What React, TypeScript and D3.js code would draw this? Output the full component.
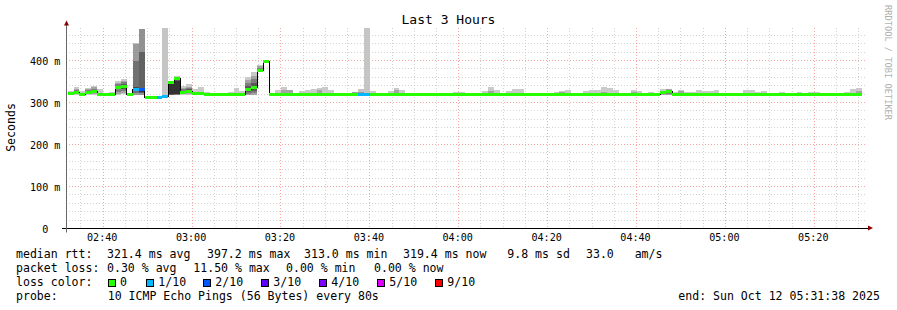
import React from 'react';
import * as d3 from 'd3';

// ---------- data ----------
const TIME_START = new Date(2025, 9, 12, 2, 31, 38);
const TIME_END = new Date(2025, 9, 12, 5, 31, 38);
const FIRST_STEP = new Date(2025, 9, 12, 2, 32, 0);
const STEP_SECONDS = 80;

// median rtt per 80 s step (ms)
const MEDIAN_MS = [
  322, 325, 319, 325, 327, 319, 319, 319, 335, 339,
  319, 331, 331, 313, 313, 313, 315, 348, 356, 325,
  327, 322, 321, 319, 319, 319, 319, 319, 319, 319,
  332, 335, 376, 398, 319, 319, 319, 319, 319, 319,
  319, 319, 319, 319, 319, 319, 319, 319, 319, 320,
  318, 319, 319, 319, 319, 319, 319, 319, 319, 319,
  319, 319, 319, 319, 319, 319, 319, 319, 319, 319,
  319, 319, 319, 319, 319, 319, 319, 319, 319, 319,
  319, 319, 319, 319, 319, 319, 319, 319, 319, 319,
  319, 319, 319, 319, 319, 319, 319, 319, 319, 319,
  324, 327, 319, 319, 319, 319, 319, 319, 319, 319,
  319, 319, 319, 319, 319, 319, 319, 319, 319, 319,
  319, 319, 319, 319, 319, 319, 319, 319, 319, 319,
  319, 319, 319, 319,
];

// lost pings (out of 10) per step
const LOSS_COUNT = [
  0, 0, 0, 0, 0, 0, 0, 0, 0, 0,
  0, 1, 2, 0, 0, 1, 1, 0, 0, 0,
  0, 0, 0, 0, 0, 0, 0, 0, 0, 0,
  0, 0, 0, 0, 0, 0, 0, 0, 0, 0,
  0, 0, 0, 0, 0, 0, 0, 0, 0, 1,
  1, 0, 0, 0, 0, 0, 0, 0, 0, 0,
  0, 0, 0, 0, 0, 0, 0, 0, 0, 0,
  0, 0, 0, 0, 0, 0, 0, 0, 0, 0,
  0, 0, 0, 0, 0, 0, 0, 0, 0, 0,
  0, 0, 0, 0, 0, 0, 0, 0, 0, 0,
  0, 0, 0, 0, 0, 0, 0, 0, 0, 0,
  0, 0, 0, 0, 0, 0, 0, 0, 0, 0,
  0, 0, 0, 0, 0, 0, 0, 0, 0, 0,
  0, 0, 0, 0,
];

// slowest ping per step (ms)
const PING_MAX = [
  328, 336, 328, 335, 340, 332, 319, 325, 351, 357,
  319, 441, 476, 315, 315, 315, 480, 351, 363, 339,
  344, 333, 338, 326, 319, 319, 319, 325, 335, 327,
  360, 372, 390, 402, 319, 330, 337, 330, 319, 327,
  330, 332, 335, 337, 330, 319, 319, 319, 325, 332,
  480, 327, 319, 319, 327, 335, 330, 319, 319, 319,
  319, 319, 319, 319, 319, 325, 325, 319, 319, 319,
  327, 337, 330, 319, 327, 332, 332, 319, 319, 319,
  319, 319, 325, 327, 330, 319, 319, 327, 330, 330,
  337, 335, 330, 319, 319, 330, 327, 319, 325, 319,
  331, 333, 325, 330, 325, 325, 330, 327, 327, 330,
  319, 319, 319, 319, 330, 330, 325, 327, 319, 319,
  325, 319, 319, 325, 319, 325, 325, 319, 319, 319,
  319, 325, 332, 335,
];

// second slowest ping where it shows above the median: [step, ms]
const PING_NEXT: [number, number][] = [
  [36, 330], [37, 330], [42, 330], [48, 325], [55, 330], [71, 328],
  [83, 325], [90, 325], [95, 325], [103, 327], [133, 327],
];

// steps with a wider spread: all received pings, sorted (ms)
const FULL_PINGS: Record<number, number[]> = {
  0: [318, 319, 320, 321, 322, 322, 323, 324, 326, 328],
  1: [319, 320, 322, 323, 324, 326, 327, 329, 332, 336],
  3: [319, 320, 321, 323, 324, 325, 327, 329, 331, 335],
  4: [319, 320, 322, 324, 326, 328, 330, 332, 336, 340],
  8: [319, 321, 326, 331, 334, 336, 339, 343, 347, 351],
  9: [320, 323, 328, 333, 337, 341, 344, 348, 352, 357],
  11: [318, 319, 322, 327, 331, 336, 398, 440, 441],
  12: [318, 319, 322, 326, 333, 420, 474, 476],
  16: [313, 314, 314, 315, 315, 316, 317, 318, 480],
  17: [318, 319, 319, 319, 320, 347, 348, 349, 350, 351],
  18: [318, 319, 319, 320, 321, 352, 355, 357, 360, 363],
  19: [319, 320, 321, 322, 324, 326, 328, 331, 335, 339],
  20: [319, 320, 322, 324, 326, 328, 331, 334, 338, 344],
  30: [318, 319, 321, 325, 330, 334, 340, 346, 354, 360],
  31: [318, 319, 322, 327, 332, 338, 346, 355, 364, 372],
  32: [373, 374, 375, 375, 376, 377, 379, 382, 386, 390],
  33: [395, 396, 397, 397, 398, 398, 399, 400, 401, 402],
  49: [318, 319, 319, 320, 320, 321, 322, 325, 332],
  50: [316, 317, 317, 318, 318, 319, 319, 320, 480],
  100: [318, 319, 320, 321, 322, 324, 325, 326, 328, 331],
  101: [318, 319, 320, 322, 324, 327, 328, 329, 331, 333],
};

const LOSS_LEGEND = ['0', '1/10', '2/10', '3/10', '4/10', '5/10', '9/10'];
const LOSS_LEVELS = [0, 1, 2, 3, 4, 5, 9];
const LOSS_COLORS = ['#26ff00', '#00b8ff', '#0059ff', '#5e00ff', '#7e00ff', '#dd00ff', '#ff0000'];
const Y_TICKS = [0, 100, 200, 300, 400];

const LEGEND_RTT: [string, number][] = [
  ['median rtt:', 16], ['321.4 ms avg', 107], ['397.2 ms max', 207], ['313.0 ms min', 304],
  ['319.4 ms now', 403], ['9.8 ms sd', 507.3], ['33.0   am/s', 586],
];
const LEGEND_LOSS: [string, number][] = [
  ['packet loss:', 16], ['0.30 % avg', 107], ['11.50 % max', 193.3], ['0.00 % min', 286], ['0.00 % now', 374],
];
const LEGEND_BOX_X = [107.7, 146, 203, 261, 319, 377, 435];

// ---------- chart ----------
const MONO = 'DejaVu Sans Mono';
const X0 = 66, X1 = 866, YTOP = 28.5, YBOT = 228.5;
const nb = (s: string) => s.replace(/ /g, '\u00a0');

function lossColor(n: number) {
  let idx = 0;
  LOSS_LEVELS.forEach((lv, i) => { if (n >= lv) idx = i; });
  return LOSS_COLORS[idx];
}

export default function App() {
  const x = d3.scaleTime().domain([TIME_START, TIME_END]).range([X0, X1]);
  const y = d3.scaleLinear().domain([0, 200 / 0.42]).range([YBOT, YTOP]);
  const nextMap = new Map(PING_NEXT);

  const steps = MEDIAN_MS.map((m, k) => {
    const t0 = d3.timeSecond.offset(FIRST_STEP, k * STEP_SECONDS);
    const t1 = d3.timeSecond.offset(FIRST_STEP, (k + 1) * STEP_SECONDS);
    const pings = FULL_PINGS[k] ?? [m - 1, m, m, m, m, m, m, m, nextMap.get(k) ?? m, PING_MAX[k]];
    return { k, t0, t1, m, loss: LOSS_COUNT[k], pings };
  });

  const bands: { x0: number; x1: number; lo: number; hi: number; c: number; key: string }[] = [];
  steps.forEach((s) => {
    const n = s.pings.length;
    const half = n / 2;
    for (let ib = 1, it = n; it > ib; ib++, it--) {
      const c = Math.floor((190 / half) * (half - ib)) + 50;
      bands.push({ x0: x(s.t0), x1: x(s.t1), lo: s.pings[ib - 1], hi: s.pings[it - 1], c, key: `${s.k}-${ib}` });
    }
  });

  const linePts: [number, number][] = steps.map((s) => [x(s.t0), y(s.m)]);
  const last = steps[steps.length - 1];
  linePts.push([x(last.t1), y(last.m)]);
  const stepLine = d3.line().curve(d3.curveStepAfter)(linePts) || '';

  const minorX = d3.timeMinute.every(5)!.range(TIME_START, TIME_END);
  const majorX = d3.timeMinute.every(20)!.range(TIME_START, TIME_END);
  const minorY = d3.range(20, 480, 20).filter((v) => v % 100 !== 0 && y(v) >= YTOP);
  const crisp = (v: number) => Math.floor(v) + 0.5;
  const fmt = d3.timeFormat('%H:%M');

  const gridMinor = 'rgba(192,192,192,0.7)';
  const gridMajor = 'rgba(245,128,128,0.7)';

  return (
    <svg width={897} height={310} style={{ display: 'block', position: 'absolute', left: 0, top: 0 }}
      fontFamily={MONO}>
      <rect x={0} y={0} width={897} height={310} fill="#ffffff" />
      <defs>
        <clipPath id="plot"><rect x={X0} y={YTOP - 0.5} width={X1 - X0} height={YBOT - YTOP} /></clipPath>
      </defs>

      {/* grid */}
      {minorY.map((v) => (
        <line key={`gy${v}`} x1={X0} x2={X1} y1={crisp(y(v))} y2={crisp(y(v))}
          stroke={gridMinor} strokeDasharray="1,2" />
      ))}
      {minorX.filter((t) => t.getMinutes() % 20 !== 0).map((t) => (
        <line key={`gx${+t}`} x1={crisp(x(t))} x2={crisp(x(t))} y1={YTOP - 0.5} y2={YBOT}
          stroke={gridMinor} strokeDasharray="1,2" />
      ))}
      {Y_TICKS.filter((v) => v > 0).map((v) => (
        <line key={`my${v}`} x1={X0} x2={X1} y1={crisp(y(v))} y2={crisp(y(v))}
          stroke={gridMajor} strokeDasharray="1,2" />
      ))}
      {majorX.map((t) => (
        <line key={`mx${+t}`} x1={crisp(x(t))} x2={crisp(x(t))} y1={YTOP - 0.5} y2={YBOT}
          stroke={gridMajor} strokeDasharray="1,2" />
      ))}

      {/* smoke */}
      <g clipPath="url(#plot)" shapeRendering="crispEdges">
        {bands.map((b) => (
          <rect key={b.key} x={b.x0} width={b.x1 - b.x0} y={y(b.hi)} height={Math.max(0, y(b.lo) - y(b.hi))}
            fill={`rgb(${b.c},${b.c},${b.c})`} />
        ))}
        <path d={stepLine} fill="none" stroke="#000" strokeWidth={1} />
        {steps.map((s) => (
          <line key={`m${s.k}`} x1={x(s.t0)} x2={x(s.t1)} y1={y(s.m)} y2={y(s.m)}
            stroke={lossColor(s.loss)} strokeWidth={3} />
        ))}
      </g>

      {/* axes */}
      <line x1={X0 - 4} x2={X1 + 2} y1={YBOT} y2={YBOT} stroke="#000" />
      <line x1={X0 + 0.5} x2={X0 + 0.5} y1={YBOT + 4} y2={YTOP - 4} stroke="#666" />
      <path d={`M${X0 - 2},${YTOP - 3} L${X0 + 3},${YTOP - 3} L${X0 + 0.5},${YTOP - 8} Z`} fill="#8b0000" />
      <path d={`M${X1 + 2},${YBOT - 3} L${X1 + 2},${YBOT + 2} L${X1 + 7},${YBOT - 0.5} Z`} fill="#8b0000" />

      {/* y labels */}
      {Y_TICKS.map((v) => (
        <text key={`yl${v}`} x={30} y={y(v) + 4} fontSize={10.1} fill="#000">
          {nb(v === 0 ? '  0' : `${v} m`)}
        </text>
      ))}
      {/* x labels */}
      {majorX.map((t) => (
        <text key={`xl${+t}`} x={x(t) - 1} y={240.5} fontSize={10.1} textAnchor="middle" fill="#000">{fmt(t)}</text>
      ))}

      <text transform="translate(15,127.5) rotate(-90)" fontSize={11.55} textAnchor="middle" fill="#000">Seconds</text>
      <text x={448.5} y={24} fontSize={13} textAnchor="middle" fill="#000">Last 3 Hours</text>
      <text transform="translate(885,5) rotate(90)" fontSize={8.7} fill="#b0b0b0">RRDTOOL / TOBI OETIKER</text>

      {/* legend */}
      <g fontSize={11.55} fill="#000">
        {LEGEND_RTT.map(([s, px]) => <text key={s} x={px} y={258}>{nb(s)}</text>)}
        {LEGEND_LOSS.map(([s, px]) => <text key={s} x={px} y={272}>{nb(s)}</text>)}
        <text x={16} y={286}>loss color:</text>
        {LOSS_LEGEND.map((s, i) => (
          <g key={s}>
            <rect x={Math.round(LEGEND_BOX_X[i]) + 0.5} y={279.5} width={7} height={7} fill={LOSS_COLORS[i]}
              stroke="#000" strokeWidth={1} />
            <text x={LEGEND_BOX_X[i] + 12.3} y={286}>{s}</text>
          </g>
        ))}
        <text x={16} y={300}>probe:</text>
        <text x={107.7} y={300}>10 ICMP Echo Pings (56 Bytes) every 80s</text>
        <text x={678.3} y={300}>end: Sun Oct 12 05:31:38 2025</text>
      </g>
    </svg>
  );
}
